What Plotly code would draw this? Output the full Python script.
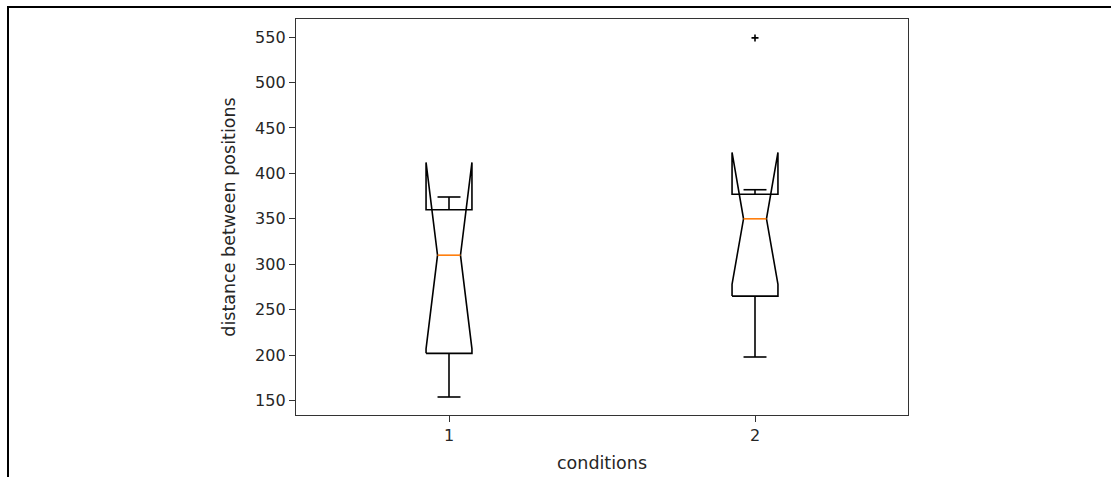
import plotly.graph_objects as go

# ---- data ----
categories = ["1", "2"]
positions = [1, 2]
whisker_low = [154, 198]
q1 = [202, 265]
notch_low = [207, 278]
median = [310, 350]
q3 = [360, 377]
notch_high = [412, 423]
whisker_high = [374, 382]
outliers = [[], [549]]

BOX_W = 0.15
W, H = 1111, 477
ML, MR, MT, MB = 296, 203, 19, 62
PW, PH = W - ML - MR, H - MT - MB

LINE = dict(color="black", width=1.6)

fig = go.Figure()
for i, p in enumerate(positions):
    left, right = p - BOX_W / 2, p + BOX_W / 2
    cl, cr = p - BOX_W / 4, p + BOX_W / 4
    # notched box (matplotlib style, notch may extend beyond the box)
    fig.add_trace(go.Scatter(
        x=[left, left, cl, left, left, right, right, cr, right, right, left],
        y=[q1[i], notch_low[i], median[i], notch_high[i], q3[i], q3[i],
           notch_high[i], median[i], notch_low[i], q1[i], q1[i]],
        mode="lines", line=LINE, hoverinfo="skip", showlegend=False))
    # whiskers
    fig.add_trace(go.Scatter(x=[p, p], y=[q1[i], whisker_low[i]], mode="lines",
                             line=LINE, hoverinfo="skip", showlegend=False))
    fig.add_trace(go.Scatter(x=[p, p], y=[q3[i], whisker_high[i]], mode="lines",
                             line=LINE, hoverinfo="skip", showlegend=False))
    # caps
    fig.add_trace(go.Scatter(x=[cl, cr], y=[whisker_low[i], whisker_low[i]], mode="lines",
                             line=LINE, hoverinfo="skip", showlegend=False))
    fig.add_trace(go.Scatter(x=[cl, cr], y=[whisker_high[i], whisker_high[i]], mode="lines",
                             line=LINE, hoverinfo="skip", showlegend=False))
    # median
    fig.add_trace(go.Scatter(x=[cl, cr], y=[median[i], median[i]], mode="lines",
                             line=dict(color="#ff7f0e", width=1.6),
                             hoverinfo="skip", showlegend=False))
    # fliers
    if outliers[i]:
        fig.add_trace(go.Scatter(x=[p] * len(outliers[i]), y=outliers[i], mode="markers",
                                 marker=dict(symbol="cross-thin", size=5,
                                             line=dict(color="black", width=1.6)),
                                 hoverinfo="skip", showlegend=False))

def px_x(x):
    return (x - ML) / PW

def px_y(y):
    return 1 - (y - MT) / PH

# outer black frame (top and left edges visible)
fig.add_shape(type="path", xref="paper", yref="paper",
              path=f"M {px_x(8)} {px_y(490)} L {px_x(8)} {px_y(7)} L {px_x(1130)} {px_y(7)}",
              line=dict(color="black", width=2))

FONT = "DejaVu Sans, sans-serif"
fig.update_layout(
    width=W, height=H,
    margin=dict(l=ML, r=MR, t=MT, b=MB),
    paper_bgcolor="white", plot_bgcolor="white",
    font=dict(family=FONT, color="#262626"),
    xaxis=dict(range=[0.5, 2.5], tickvals=positions, ticktext=categories,
               automargin=False,
               showgrid=False, zeroline=False, showline=True, mirror=True,
               linecolor="#333", linewidth=1.3, ticks="outside", ticklen=6,
               tickcolor="#333", tickfont=dict(size=16, family=FONT),
               title=dict(text="conditions", font=dict(size=17.5, family=FONT), standoff=12)),
    yaxis=dict(range=[134.2, 569.8], tickvals=[150, 200, 250, 300, 350, 400, 450, 500, 550],
               automargin=False,
               showgrid=False, zeroline=False, showline=True, mirror=True,
               linecolor="#333", linewidth=1.3, ticks="outside", ticklen=6,
               tickcolor="#333", tickfont=dict(size=16, family=FONT),
               title=dict(text="distance between positions", font=dict(size=17.5, family=FONT),
                          standoff=14)),
)

fig.write_html("out.html")
